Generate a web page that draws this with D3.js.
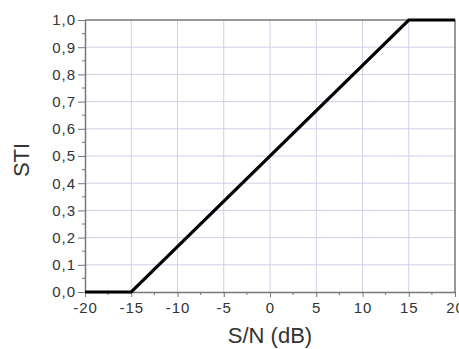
<!DOCTYPE html>
<html>
<head>
<meta charset="utf-8">
<script src="https://cdn.jsdelivr.net/npm/d3@7"></script>
<style>
  body { margin: 0; background: #fff; }
  svg { display: block; }
  text { font-family: "Liberation Sans", Arial, sans-serif; fill: #333; }
</style>
</head>
<body>
<div class="chart"></div>
<script>
// STI vs S/N curve
const snr = [-20, -15, 15, 20];
const sti = [0, 0, 1, 1];
const xTicks = [-20, -15, -10, -5, 0, 5, 10, 15, 20];
const yTicks = [0, 0.1, 0.2, 0.3, 0.4, 0.5, 0.6, 0.7, 0.8, 0.9, 1.0];

const W = 459, H = 349;
const plotL = 85, plotR = 455, plotT = 20, plotB = 292;

const svg = d3.select('div.chart').append('svg')
    .attr('width', W)
    .attr('height', H);

const x = d3.scaleLinear().domain([-20, 20]).range([plotL, plotR]);
const y = d3.scaleLinear().domain([0, 1]).range([plotB, plotT]);

// grid
const grid = svg.append('g');
grid.selectAll('.vg')
    .data(xTicks.slice(1, -1))
    .enter().append('line')
    .attr('x1', d => x(d)).attr('x2', d => x(d))
    .attr('y1', plotT).attr('y2', plotB)
    .attr('stroke', '#cfcfe8').attr('stroke-width', 1);
grid.selectAll('.hg')
    .data(yTicks.slice(1, -1))
    .enter().append('line')
    .attr('x1', plotL).attr('x2', plotR)
    .attr('y1', d => y(d)).attr('y2', d => y(d))
    .attr('stroke', '#cfcfe8').attr('stroke-width', 1);

// frame (top + right)
svg.append('path')
    .attr('d', `M${plotL},${plotT}H${plotR}V${plotB}`)
    .attr('fill', 'none').attr('stroke', '#777').attr('stroke-width', 1.5);

// x axis, plain hyphen for minus like the original
const xAxis = svg.append('g')
    .attr('transform', `translate(0,${plotB})`)
    .call(d3.axisBottom(x).tickValues(xTicks).tickFormat(d => String(d))
        .tickSize(5).tickPadding(5).tickSizeOuter(0));
// minor ticks x
svg.append('g').selectAll('line')
    .data(d3.range(-17.5, 20, 5))
    .enter().append('line')
    .attr('x1', d => x(d)).attr('x2', d => x(d))
    .attr('y1', plotB).attr('y2', plotB + 3)
    .attr('stroke', '#777');

const fmt = d => d3.format('.1f')(d).replace('.', ',');
const yAxis = svg.append('g')
    .attr('transform', `translate(${plotL},0)`)
    .call(d3.axisLeft(y).tickValues(yTicks).tickFormat(fmt).tickSize(7).tickPadding(2).tickSizeOuter(0));
svg.append('g').selectAll('line')
    .data(d3.range(0.05, 1, 0.1))
    .enter().append('line')
    .attr('x1', plotL - 3).attr('x2', plotL)
    .attr('y1', d => y(d)).attr('y2', d => y(d))
    .attr('stroke', '#777');

[xAxis, yAxis].forEach(a => {
    a.select('.domain').attr('stroke', '#777').attr('stroke-width', 1.5);
    a.selectAll('.tick line').attr('stroke', '#777');
    a.selectAll('.tick text')
        .attr('fill', '#333')
        .style('font-size', '15px')
        .style('letter-spacing', '1px')
        .style('font-family', '"Liberation Sans", Arial, sans-serif');
});

// curve
const line = d3.line().x((d, i) => x(snr[i])).y(d => y(d));
svg.append('path')
    .datum(sti)
    .attr('d', line)
    .attr('fill', 'none')
    .attr('stroke', '#000')
    .attr('stroke-width', 3.2)
    .attr('stroke-linejoin', 'miter');

// labels
svg.append('text')
    .attr('x', 270).attr('y', 343)
    .attr('text-anchor', 'middle')
    .style('font-size', '22px')
    .text('S/N (dB)');
svg.append('text')
    .attr('transform', 'translate(29,160) rotate(-90)')
    .attr('text-anchor', 'middle')
    .style('font-size', '22px')
    .text('STI');
</script>
</body>
</html>
